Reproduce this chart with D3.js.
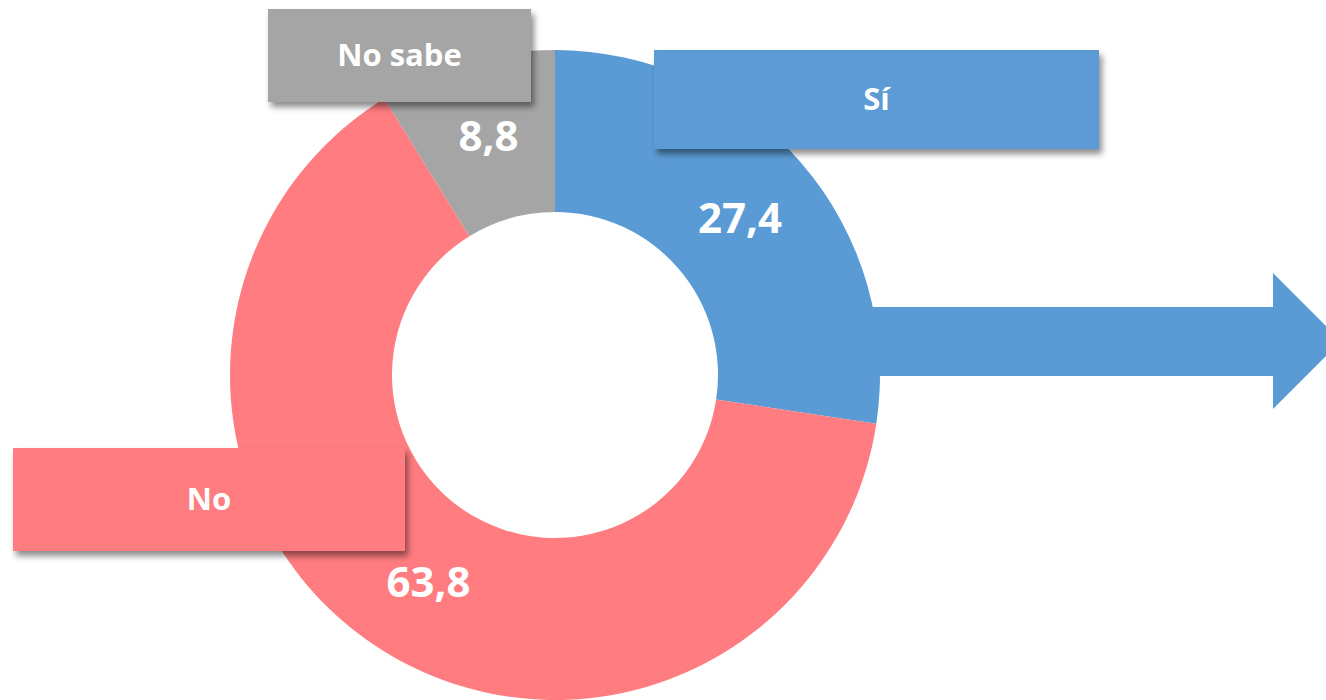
<!DOCTYPE html>
<html>
<head>
<meta charset="utf-8">
<script src="https://cdnjs.cloudflare.com/ajax/libs/d3/7.8.5/d3.min.js"></script>
<style>
  body { margin: 0; background: #fff; }
  svg { display: block; font-family: 'Open Sans', 'Noto Sans', sans-serif; }
</style>
</head>
<body>
<div id="donut-chart"></div>
<script>
// chart data
const categories = ['Sí', 'No', 'No sabe'];
const values = [27.4, 63.8, 8.8];
const valueLabels = ['27,4', '63,8', '8,8'];
const colors = ['#5B9BD5', '#FF7C80', '#A5A5A5'];

const drawDonut = (() => {
  const width = 1326;
  const height = 700;
  const cx = 555;
  const cy = 375;
  const outerR = 325;
  const innerR = 163;

  const svg = d3.select('#donut-chart').append('svg')
    .attr('width', width)
    .attr('height', height);

  // drop shadow for the label boxes
  svg.append('defs').append('filter')
    .attr('id', 'shadow')
    .attr('x', '-10%').attr('y', '-20%')
    .attr('width', '130%').attr('height', '150%')
    .append('feDropShadow')
    .attr('dx', 3)
    .attr('dy', 5)
    .attr('stdDeviation', 3)
    .attr('flood-color', '#000')
    .attr('flood-opacity', 0.45);

  // arrow coming out of the "Sí" slice (drawn behind the ring)
  const arrow = d3.path();
  arrow.moveTo(820, 307);
  arrow.lineTo(1273, 307);
  arrow.lineTo(1273, 273);
  arrow.lineTo(1341, 341);
  arrow.lineTo(1273, 409);
  arrow.lineTo(1273, 376);
  arrow.lineTo(820, 376);
  arrow.closePath();
  svg.append('path')
    .attr('d', arrow.toString())
    .style('fill', colors[0]);

  const g = svg.append('g')
    .attr('transform', `translate(${cx},${cy})`);

  const pie = d3.pie().sort(null).value(d => d.value);
  const arc = d3.arc().innerRadius(innerR).outerRadius(outerR);

  return (data) => {
    const arcs = pie(data);

    g.selectAll('path.slice')
      .data(arcs)
      .enter().append('path')
      .attr('class', 'slice')
      .attr('d', arc)
      .style('fill', d => d.data.color);

    // value labels sit near the slice centroids
    const valueOffsets = [[0, 2], [8, 4], [0, -4]];
    g.selectAll('text.value')
      .data(arcs)
      .enter().append('text')
      .attr('class', 'value')
      .attr('transform', (d, i) => {
        const [x, y] = arc.centroid(d);
        return `translate(${x + valueOffsets[i][0]},${y + valueOffsets[i][1]})`;
      })
      .attr('text-anchor', 'middle')
      .attr('dy', '.35em')
      .style('fill', '#fff')
      .style('font-weight', 700)
      .style('font-size', '42px')
      .text(d => d.data.valueLabel);

    // category boxes
    const boxes = [
      { x: 654, y: 50, w: 445, h: 99 },
      { x: 13, y: 448, w: 392, h: 103 },
      { x: 268, y: 9, w: 263, h: 93 },
    ];
    const legend = svg.selectAll('.legend')
      .data(data)
      .enter().append('g')
      .attr('class', 'legend')
      .attr('transform', (d, i) => `translate(${boxes[i].x},${boxes[i].y})`);

    legend.append('rect')
      .attr('width', (d, i) => boxes[i].w)
      .attr('height', (d, i) => boxes[i].h)
      .attr('filter', 'url(#shadow)')
      .style('fill', d => d.color);

    legend.append('text')
      .attr('x', (d, i) => boxes[i].w / 2)
      .attr('y', (d, i) => boxes[i].h / 2)
      .attr('dy', '.35em')
      .attr('text-anchor', 'middle')
      .style('fill', '#fff')
      .style('font-weight', 700)
      .style('font-size', '31px')
      .text(d => d.name);
  };
})();

drawDonut(categories.map((name, i) => ({
  name, value: values[i], valueLabel: valueLabels[i], color: colors[i],
})));
</script>
</body>
</html>
